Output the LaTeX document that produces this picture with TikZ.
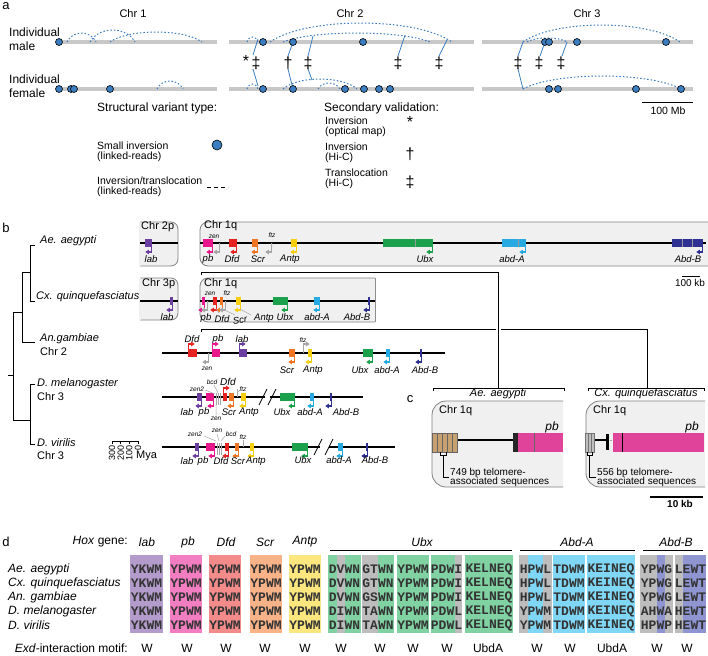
\documentclass[tikz,border=0pt]{standalone}
\usepackage{fontspec}
\setmainfont{Liberation Sans}
\newfontfamily\seqfont{Liberation Mono}
\usetikzlibrary{arrows.meta}
\definecolor{dotblue}{HTML}{3B7DC0}
\definecolor{chrgray}{HTML}{C8C8C8}
\definecolor{boxgray}{HTML}{F0F0F0}
\definecolor{boxline}{HTML}{808080}
\definecolor{cLab}{HTML}{6B3FA0}
\definecolor{cPb}{HTML}{E8188C}
\definecolor{cDfd}{HTML}{E52421}
\definecolor{cScr}{HTML}{EE7523}
\definecolor{cAntp}{HTML}{F5CF10}
\definecolor{cUbx}{HTML}{1BA14B}
\definecolor{cAbdA}{HTML}{27AAE1}
\definecolor{cAbdB}{HTML}{2E3192}
\definecolor{cGray}{HTML}{A6A6A6}
\definecolor{dLab}{HTML}{B39BCB}
\definecolor{dPb}{HTML}{F27DC0}
\definecolor{dDfd}{HTML}{F38B8B}
\definecolor{dScr}{HTML}{F7B287}
\definecolor{dAntp}{HTML}{FCE77F}
\definecolor{dUbx}{HTML}{80D2A2}
\definecolor{dAbdA}{HTML}{80D6F5}
\definecolor{dAbdB}{HTML}{8E95D0}
\definecolor{dGray}{HTML}{BDBDBD}
\definecolor{brown}{HTML}{C8A171}
\definecolor{pbmag}{HTML}{E0439A}
\newcounter{nn}
\newcommand{\T}[3][]{\stepcounter{nn}\node[#1] (n\arabic{nn}) at (#2) {#3};}
\newcommand{\dt}[2]{\stepcounter{nn}\node[dot] (n\arabic{nn}) at (#1,#2) {};}
\newcommand{\hump}[4]{\draw[arcst] (#1,#3) .. controls ({0.8*#1+0.2*#2},{#3+(#4-#3)*1.33}) and ({0.2*#1+0.8*#2},{#3+(#4-#3)*1.33}) .. (#2,#3);}
\newcommand{\gdl}[4]{\fill[#4] (#1,#3-4) rectangle (#2,#3+4);\draw[garr,#4] (#2-0.7,#3) -- (#2-0.7,#3+9) -- ++(-6,0);}
\newcommand{\gur}[4]{\fill[#4] (#1,#3-4) rectangle (#2,#3+4);\draw[garr,#4] (#1+0.7,#3) -- (#1+0.7,#3-9) -- ++(6,0);}
\newcommand{\seqbg}[3]{\fill[#3] (#1,555) rectangle (#2,633);}
\newcommand{\seqtx}[6]{\T[sq]{#1,569}{#2}\T[sq]{#1,583}{#3}\T[sq]{#1,597}{#4}\T[sq]{#1,611}{#5}\T[sq]{#1,625}{#6}}
\tikzset{
  lbl/.style={font=\fontsize{11}{14}\selectfont, inner sep=0pt, align=left},
  big/.style={font=\fontsize{12}{14}\selectfont, inner sep=0pt, align=left},
  leg/.style={font=\fontsize{10.5}{10}\selectfont, inner sep=0pt, align=left, anchor=west},
  panel/.style={font=\fontsize{13}{14}\selectfont, inner sep=0pt},
  mk/.style={font=\fontsize{16}{16}\selectfont, inner sep=0pt},
  gl/.style={font=\fontsize{9.5}{10}\selectfont\itshape, inner sep=0pt},
  dl/.style={font=\fontsize{12}{13}\selectfont\itshape, inner sep=0pt},
  tiny/.style={font=\fontsize{6.5}{7}\selectfont\itshape, inner sep=0pt},
  sp/.style={font=\fontsize{11}{12}\selectfont\itshape, inner sep=0pt, anchor=west},
  spd/.style={font=\fontsize{12}{13}\selectfont\itshape, inner sep=0pt, anchor=west},
  chrom/.style={line width=4pt, draw=chrgray},
  dot/.style={circle, draw=black, fill=dotblue, minimum size=7pt, inner sep=0pt, line width=0.6pt},
  arcst/.style={draw=dotblue, dash pattern=on 1.5pt off 2pt, line width=1pt},
  tl/.style={draw=dotblue, line width=0.8pt},
  garr/.style={line width=1.4pt, -{Triangle[length=3.5pt,width=4.5pt]}},
  hl/.style={line width=1.3pt, black},
  tree/.style={line width=0.8pt, black},
  bx/.style={fill=boxgray, draw=boxline, line width=0.8pt},
  brk/.style={line width=0.8pt, black},
  lead/.style={draw=cGray, line width=0.5pt},
  sq/.style={font={\seqfont\fontsize{13}{13}\selectfont\bfseries}, text=black!80, inner sep=0pt},
  mot/.style={font=\fontsize{12}{13}\selectfont, inner sep=0pt},
}
\begin{document}
\begin{tikzpicture}[x=1pt,y=-1pt]
\useasboundingbox (0,0) rectangle (708,655);
% ================= panel a =================
\T[panel]{6,6}{a}
\T[lbl]{133,14}{Chr 1}
\T[lbl]{350,14}{Chr 2}
\T[lbl]{587,14}{Chr 3}
\T[big,anchor=west]{9,39}{Individual\\male}
\T[big,anchor=west]{9,86}{Individual\\female}
\draw[chrom] (59,42) -- (217,42);
\draw[chrom] (229,42) -- (474,42);
\draw[chrom] (482,42) -- (693,42);
\draw[chrom] (59,89) -- (217,89);
\draw[chrom] (229,89) -- (474,89);
\draw[chrom] (482,89) -- (693,89);
% arcs
\hump{67}{96}{42}{33}
\hump{90}{135}{42}{30}
\hump{110}{202}{42}{32}
\hump{157}{183}{89}{81}
\hump{247}{258}{42}{37}
\hump{270}{452}{42}{23}
\hump{283}{430}{42}{33}
\hump{247}{258}{89}{84}
\hump{283}{357}{89}{79}
\hump{318}{340}{89}{83}
\hump{523}{680}{42}{25}
\hump{527}{567}{42}{38}
\hump{523}{681}{89}{76}
% translocation links
\draw[tl] (258,39) -- (253,55); \draw[tl] (253,69) -- (258,86);
\draw[tl] (293,42) -- (288,56); \draw[tl] (288,69) -- (293,89);
\draw[tl] (313,36) -- (308,56); \draw[tl] (308,69) -- (312,80);
\draw[tl] (405,35) -- (398,56);
\draw[tl] (447,40) -- (439,56);
\draw[tl] (523,42) -- (518,56); \draw[tl] (518,69) -- (523,89);
\draw[tl] (545,42) -- (540,56);
\draw[tl] (567,42) -- (562,56);
% markers
\T[mk]{246,61}{*}
\T[mk]{256,63}{‡}
\T[mk]{288,63}{†}
\T[mk]{308,63}{‡}
\T[mk]{398,63}{‡}
\T[mk]{439,63}{‡}
\T[mk]{518,63}{‡}
\T[mk]{539,63}{‡}
\T[mk]{561,63}{‡}
% dots
\dt{59}{42}\dt{263}{42}\dt{293}{42}\dt{363}{42}
\dt{545}{42}\dt{549}{42}\dt{577}{42}\dt{666}{42}
\dt{59}{89}\dt{71}{89}\dt{74}{89}\dt{110}{89}
\dt{263}{89}\dt{293}{89}\dt{345}{89}\dt{364}{89}\dt{379}{89}\dt{390}{89}
\dt{549}{89}\dt{558}{89}\dt{636}{89}\dt{681}{89}
% legend
\T[big,anchor=west]{97,108}{Structural variant type:}
\T[leg]{97,152}{Small inversion\\(linked-reads)}
\T[leg]{97,187}{Inversion/translocation\\(linked-reads)}
\stepcounter{nn}\node[dot,minimum size=10pt] (n\arabic{nn}) at (217,145) {};
\draw[black, line width=1pt, dash pattern=on 4pt off 3pt] (207,187) -- (228,187);
\T[big,anchor=west]{324,108}{Secondary validation:}
\T[leg]{325,127}{Inversion\\(optical map)}
\T[leg]{325,153}{Inversion\\(Hi-C)}
\T[leg]{325,179}{Translocation\\(Hi-C)}
\T[mk]{410,122}{*}
\T[mk]{410,154}{†}
\T[mk]{410,182}{‡}
\draw[line width=1pt] (642,103) -- (693,103);
\T[leg,anchor=center]{668,111}{100 Mb}
% ================= panel b =================
\T[panel]{6,228}{b}
% tree
\draw[tree] (35,245) -- (30,245) -- (30,301) -- (35,301);
\draw[tree] (30,272) -- (22,272) -- (22,342) -- (35,342);
\draw[tree] (22,312) -- (13,312) -- (13,420) -- (30,420);
\draw[tree] (35,384) -- (30,384) -- (30,444) -- (35,444);
\draw[tree] (13,375) -- (8,375);
\T[sp]{40,241}{Ae. aegypti}
\T[sp]{36,297}{Cx. quinquefasciatus}
\T[sp]{40,339}{An.gambiae}
\T[sp,font=\fontsize{11}{12}\selectfont]{40,352}{Chr 2}
\T[sp]{37,384}{D. melanogaster}
\T[sp,font=\fontsize{11}{12}\selectfont]{37,397}{Chr 3}
\T[sp]{37,443}{D. virilis}
\T[sp,font=\fontsize{11}{12}\selectfont]{37,456}{Chr 3}
% Mya scale
\draw[tree] (112,444) -- (112,441) -- (138,441) -- (138,444);
\draw[tree] (120.7,441) -- (120.7,444);
\draw[tree] (129.3,441) -- (129.3,444);
\T[font=\fontsize{9}{9}\selectfont,inner sep=0pt,rotate=90,anchor=east]{112,445}{300}
\T[font=\fontsize{9}{9}\selectfont,inner sep=0pt,rotate=90,anchor=east]{120.7,445}{200}
\T[font=\fontsize{9}{9}\selectfont,inner sep=0pt,rotate=90,anchor=east]{129.3,445}{100}
\T[font=\fontsize{9}{9}\selectfont,inner sep=0pt,rotate=90,anchor=east]{138,445}{0}
\T[lbl,anchor=west]{136,456}{Mya}
% boxes
\draw[bx,rounded corners=7pt] (140,222) -- (178,222) -- (178,266) -- (140,266);
\fill[boxgray] (139,222.4) rectangle (141,265.6);
\draw[bx,rounded corners=8pt] (709,222) -- (200,222) -- (200,266) -- (709,266);
\draw[bx,rounded corners=7pt] (140,278) -- (178,278) -- (178,320) -- (140,320);
\fill[boxgray] (139,278.4) rectangle (141,319.6);
\draw[bx] (375,278) -- (375,322);
\draw[bx,rounded corners=8pt] (375,278) -- (200,278) -- (200,322) -- (375,322);
\T[lbl,anchor=west]{141,227}{Chr 2p}
\T[lbl,anchor=west]{204,226}{Chr 1q}
\T[lbl,anchor=west]{142,284}{Chr 3p}
\T[lbl,anchor=west]{204,283.5}{Chr 1q}
% Ae. aegypti
\draw[hl] (140,243) -- (178,243);
\draw[hl] (200,243) -- (706,243);
\gdl{145}{152}{243}{cLab}
\T[gl]{151,259}{lab}
\gdl{203}{213}{243}{cPb}
\gdl{220}{220}{243}{cGray}
\gdl{229}{237}{243}{cDfd}
\gdl{252}{258}{243}{cScr}
\gdl{272}{272}{243}{cGray}
\gdl{291}{297}{243}{cAntp}
\gdl{383}{433}{243}{cUbx}
\gdl{502}{526}{243}{cAbdA}
\gdl{672}{703}{243}{cAbdB}
\draw[black!40,line width=0.3pt] (415,239) -- (415,247) (518,239) -- (518,247) (682,239) -- (682,247) (692,239) -- (692,247);
\T[tiny]{214,236.5}{zen}
\T[tiny]{272,235}{ftz}
\T[gl]{208,259}{pb}
\T[gl]{232,259}{Dfd}
\T[gl]{258,259}{Scr}
\T[gl]{290,259}{Antp}
\T[gl]{425,259}{Ubx}
\T[gl]{512,259}{abd-A}
\T[gl]{688,259}{Abd-B}
\draw[line width=0.8pt] (201,275) -- (201,272) -- (498,272) -- (498,388);
\draw[line width=1pt] (682,276) -- (700,276);
\T[leg,anchor=center,font=\fontsize{10}{10}\selectfont]{690,283}{100 kb}
% Cx. quinquefasciatus
\draw[hl] (140,301) -- (178,301);
\draw[hl] (200,301) -- (375,301);
\gdl{170}{173}{301}{cLab}
\T[gl]{167,317}{lab}
\gdl{202}{205}{301}{cPb}
\gdl{208}{208}{301}{cGray}
\gdl{213}{217}{301}{cDfd}
\gdl{220}{223}{301}{cScr}
\gdl{226}{226}{301}{cGray}
\gdl{236}{241}{301}{cAntp}
\gdl{273}{288}{301}{cUbx}
\gdl{314}{320}{301}{cAbdA}
\gdl{368}{370}{301}{cAbdB}
\draw[lead] (216,309) -- (219,313) (222,309) -- (235,315) (240,309) -- (251,315);
\T[tiny]{210,293.5}{zen}
\T[tiny]{227,293.5}{ftz}
\T[gl]{206,318}{pb}
\T[gl]{222,319}{Dfd}
\T[gl,rotate=8]{240,320}{Scr}
\T[gl]{264,318}{Antp}
\T[gl]{285,317}{Ubx}
\T[gl]{317,317}{abd-A}
\T[gl]{357,317}{Abd-B}
\draw[line width=0.8pt] (201,332) -- (201,329) -- (496,329);
\draw[line width=0.8pt] (501,329) -- (647,329) -- (647,388);
% An. gambiae
\draw[hl] (162,353) -- (445,353);
\gur{188}{197}{353}{cDfd}
\gdl{209}{209}{353}{cGray}
\gur{212}{220}{353}{cPb}
\gur{239}{247}{353}{cLab}
\gdl{289}{295}{353}{cScr}
\gur{303}{303}{353}{cGray}
\gdl{308}{312}{353}{cAntp}
\gdl{363}{373}{353}{cUbx}
\gdl{386}{390}{353}{cAbdA}
\gdl{420}{422}{353}{cAbdB}
\T[gl]{192,339}{Dfd}
\T[gl]{218,339}{pb}
\T[gl]{242,339}{lab}
\T[tiny]{303,340}{ftz}
\T[tiny]{207,369}{zen}
\T[gl]{287,370}{Scr}
\T[gl]{313,370}{Antp}
\T[gl]{360,370}{Ubx}
\T[gl]{387,370}{abd-A}
\T[gl]{425,370}{Abd-B}
% D. melanogaster
\draw[hl] (162,397) -- (265,397);
\draw[hl] (270,397) -- (363,397);
\draw[brk] (259,405) -- (267,389) (268,405) -- (276,389);
\gdl{197}{202}{397}{cLab}
\gdl{206}{214}{397}{cPb}
\draw[cGray,line width=0.6pt] (216,393) -- (216,405) (218,393) -- (218,405) (220,393) -- (220,405);
\gur{223}{227}{397}{cDfd}
\gdl{229}{234}{397}{cScr}
\draw[cGray,line width=0.7pt] (237,397) -- (237,389);
\gdl{241}{246}{397}{cAntp}
\gdl{280}{295}{397}{cUbx}
\gdl{310}{314}{397}{cAbdA}
\gdl{330}{332}{397}{cAbdB}
\draw[lead] (205,390) -- (215,394) (214,385) -- (218,393) (216,416) -- (216,405) (240,390) -- (237,393);
\T[tiny]{197,389}{zen2}
\T[tiny]{212,382}{bcd}
\T[tiny]{243,389}{ftz}
\T[tiny]{216,419}{zen}
\T[gl,font=\fontsize{10}{11}\selectfont\itshape]{228,382}{Dfd}
\T[gl]{187,412}{lab}
\T[gl]{204,412}{pb}
\T[gl]{229,412}{Scr}
\T[gl]{249,412}{Antp}
\T[gl]{282,412}{Ubx}
\T[gl]{310,412}{abd-A}
\T[gl]{346,412}{Abd-B}
% D. virilis
\draw[hl] (162,447) -- (320,447);
\draw[hl] (329,447) -- (395,447);
\draw[brk] (314,455) -- (322,439) (325,455) -- (333,439);
\gdl{195}{199}{447}{cLab}
\gdl{206}{215}{447}{cPb}
\draw[cGray,line width=0.6pt] (217,443) -- (217,455) (219,443) -- (219,455) (221,443) -- (221,455);
\gdl{225}{229}{447}{cDfd}
\gdl{235}{239}{447}{cScr}
\draw[cGray,line width=0.7pt] (243,447) -- (243,440);
\gdl{250}{254}{447}{cAntp}
\gdl{292}{308}{447}{cUbx}
\gdl{338}{343}{447}{cAbdA}
\gdl{366}{368}{447}{cAbdB}
\draw[lead] (204,436) -- (216,441) (217,434) -- (219,441) (225,436) -- (221,441);
\T[tiny]{195,434}{zen2}
\T[tiny]{217,431}{zen}
\T[tiny]{231,434}{bcd}
\T[tiny]{243,437}{ftz}
\T[gl]{187,461}{lab}
\T[gl]{203,461}{pb}
\T[gl]{221,461}{Dfd}
\T[gl]{238,461}{Scr}
\T[gl]{256,461}{Antp}
\T[gl]{303,460}{Ubx}
\T[gl]{339,460}{abd-A}
\T[gl]{375,460}{Abd-B}
% ================= panel c =================
\T[panel]{410,399}{c}
\draw[line width=0.8pt] (433,391) -- (433,388) -- (564,388) -- (564,391);
\draw[line width=0.8pt] (588,391) -- (588,388) -- (704,388) -- (704,391);
\T[gl,font=\fontsize{11}{12}\selectfont\itshape]{498,394}{Ae. aegypti}
\T[gl,font=\fontsize{11}{12}\selectfont\itshape]{646,394}{Cx. quinquefasciatus}
\draw[bx,rounded corners=14pt] (563,401) -- (432,401) -- (432,487) -- (563,487);
\draw[bx,rounded corners=14pt] (705,401) -- (586,401) -- (586,487) -- (705,487);
\T[lbl,anchor=west]{439,411}{Chr 1q}
\T[lbl,anchor=west]{593,411}{Chr 1q}
\T[gl,font=\fontsize{12}{13}\selectfont\itshape]{552,427}{pb}
\T[gl,font=\fontsize{12}{13}\selectfont\itshape]{692,427}{pb}
% Ae contents
\draw[line width=1.2pt] (457,440) -- (513,440);
\fill[brown] (432,433) rectangle (457,452);
\draw[black!60,line width=0.5pt] (432,433) rectangle (457,452) (437,433) -- (437,452) (442,433) -- (442,452) (447,433) -- (447,452) (452,433) -- (452,452);
\fill[black!85] (513,433) rectangle (518,452);
\fill[pbmag] (518,433) rectangle (563,452);
\draw[black!60,line width=1pt] (534,433) -- (534,452);
\draw[line width=0.6pt] (440,452) -- (440,455) -- (446,455) -- (446,452);
\draw[line width=0.6pt] (443,455) -- (443,477) -- (449,477);
\T[leg,font=\fontsize{10}{9.5}\selectfont]{450,477.5}{749 bp telomere-\\associated sequences}
% Cx contents
\draw[line width=1.2pt] (594,440) -- (607,440);
\draw[cGray,line width=0.6pt,densely dotted] (608,440) -- (613,440);
\fill[black!25] (585,433) rectangle (594,452);
\draw[black!55,line width=0.5pt] (585,433) rectangle (594,452) (588,433) -- (588,452) (591,433) -- (591,452);
\fill[black] (606,434) rectangle (609,450);
\fill[pbmag] (613,433) rectangle (704,452);
\draw[black,line width=1pt] (622,433) -- (622,452);
\draw[line width=0.6pt] (587,452) -- (587,455) -- (592,455) -- (592,452);
\draw[line width=0.6pt] (589.5,455) -- (589.5,477) -- (596,477);
\T[leg,font=\fontsize{10}{9.5}\selectfont]{597,477.5}{556 bp telomere-\\associated sequences}
\draw[line width=1.2pt] (650,497) -- (703,497);
\T[leg,anchor=center,font=\fontsize{10}{10}\selectfont\bfseries]{680,504}{10 kb}
% ================= panel d =================
\T[panel]{6,542}{d}
\T[mot,anchor=east]{128,542}{\textit{Hox} gene:}
\T[dl]{147,542}{lab}
\T[dl]{188,542}{pb}
\T[dl]{226,542}{Dfd}
\T[dl]{265,542}{Scr}
\T[dl]{305,542}{Antp}
\T[dl]{422,542}{Ubx}
\T[dl]{577,542}{Abd-A}
\T[dl]{676,542}{Abd-B}
\draw[line width=1pt] (330,550) -- (512,550);
\draw[line width=1pt] (520,550) -- (635,550);
\draw[line width=1pt] (643,550) -- (703,550);
\T[spd]{8,569}{Ae. aegypti}
\T[spd]{8,583}{Cx. quinquefasciatus}
\T[spd]{8,597}{An. gambiae}
\T[spd]{8,611}{D. melanogaster}
\T[spd]{8,625}{D. virilis}
\seqbg{130}{163}{dLab}
\seqbg{170}{202}{dPb}
\seqbg{209}{241}{dDfd}
\seqbg{250}{282}{dScr}
\seqbg{289}{321}{dAntp}
\seqbg{328}{361}{dUbx}
\fill[dGray] (337,555) rectangle (345,633);
\seqbg{362}{394}{dUbx}
\fill[dGray] (362,555) rectangle (378,633);
\seqbg{397}{429}{dUbx}
\seqbg{431}{462}{dUbx}
\fill[dGray] (455,555) rectangle (462,633);
\seqbg{465}{513}{dUbx}
\seqbg{519}{552}{dAbdA}
\fill[dGray] (519,555) rectangle (528,633);
\fill[dGray] (543,555) rectangle (552,633);
\seqbg{553}{585}{dAbdA}
\seqbg{587}{635}{dAbdA}
\seqbg{640}{673}{dAbdB}
\fill[dGray] (640,555) rectangle (657,633);
\fill[dGray] (665,555) rectangle (673,633);
\seqbg{675}{706}{dAbdB}
\fill[dGray] (675,555) rectangle (683,633);
\seqtx{146.5}{YKWM}{YKWM}{YKWM}{YKWM}{YKWM}
\seqtx{186}{YPWM}{YPWM}{YPWM}{YPWM}{YPWM}
\seqtx{225}{YPWM}{YPWM}{YPWM}{YPWM}{YPWM}
\seqtx{266}{YPWM}{YPWM}{YPWM}{YPWM}{YPWM}
\seqtx{305}{YPWM}{YPWM}{YPWM}{YPWM}{YPWM}
\seqtx{344.5}{DVWN}{DVWN}{DVWN}{DIWN}{DIWN}
\seqtx{378}{GTWN}{GTWN}{GSWN}{TAWN}{TAWN}
\seqtx{413}{YPWM}{YPWM}{YPWM}{YPWM}{YPWM}
\seqtx{446.5}{PDWI}{PDWI}{PDWI}{PDWL}{PDWL}
\seqtx{489}{KELNEQ}{KELNEQ}{KELNEQ}{KELNEQ}{KELNEQ}
\seqtx{535.5}{HPWL}{HPWL}{HPWL}{YPWM}{YPWM}
\seqtx{569}{TDWM}{TDWM}{TDWM}{TDWM}{TDWM}
\seqtx{611}{KEINEQ}{KEINEQ}{KEINEQ}{KEINEQ}{KEINEQ}
\seqtx{656.5}{YPWG}{YPWG}{YPWG}{AHWA}{HPWP}
\seqtx{690.5}{LEWT}{LEWT}{LEWT}{HEWT}{HEWT}
\T[mot,anchor=east]{128,648}{\textit{Exd}-interaction motif:}
\T[mot]{147,648}{W}
\T[mot]{187,648}{W}
\T[mot]{226,648}{W}
\T[mot]{265,648}{W}
\T[mot]{305,648}{W}
\T[mot]{341,648}{W}
\T[mot]{380,648}{W}
\T[mot]{413,648}{W}
\T[mot]{447,648}{W}
\T[mot]{488,648}{UbdA}
\T[mot]{537,648}{W}
\T[mot]{570,648}{W}
\T[mot]{612,648}{UbdA}
\T[mot]{657,648}{W}
\T[mot]{687,648}{W}
\end{tikzpicture}
\end{document}
